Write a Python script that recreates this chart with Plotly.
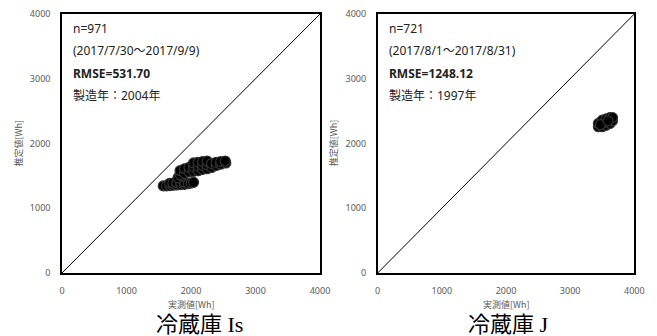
import plotly.graph_objects as go

# ---- data ----
axis_ticks = [0, 1000, 2000, 3000, 4000]

is_measured = [1570, 1620, 1670, 1670, 1720, 1720, 1780, 1780, 1840, 1840, 1900, 1900, 1960, 2000, 2040,
               1800, 1850,
               1830, 1830, 1900, 1900, 1970, 1970, 2040, 2040, 2040, 2110, 2110, 2110, 2180, 2180, 2180,
               2250, 2250, 2250, 2320, 2320, 2390, 2390, 2460, 2460, 2540, 2530]
is_estimated = [1345, 1345, 1350, 1385, 1355, 1390, 1360, 1395, 1365, 1400, 1370, 1405, 1380, 1390, 1400,
                1470, 1500,
                1520, 1580, 1540, 1610, 1560, 1630, 1570, 1640, 1700, 1580, 1650, 1710, 1600, 1660, 1720,
                1610, 1670, 1730, 1630, 1690, 1660, 1710, 1680, 1720, 1700, 1730]

j_measured = [3440, 3440, 3500, 3500, 3500, 3560, 3560, 3560, 3620, 3620, 3620, 3660, 3660, 3470, 3590]
j_estimated = [2260, 2310, 2260, 2310, 2360, 2280, 2330, 2380, 2310, 2360, 2400, 2350, 2400, 2290, 2350]

diag = [0, 4000]

W, H = 657, 336
fig = go.Figure()

grey = "#595959"
tick_font = dict(family="Noto Sans, Noto Sans CJK JP", size=9, color=grey)

panels = [
    dict(xd=[62 / W, 320 / W], x=is_measured, y=is_estimated, cap_x=199,
         info=["n=971", "(2017/7/30～2017/9/9)", "<b>RMSE=531.70</b>", "製造年：2004年"],
         name="冷蔵庫 Is"),
    dict(xd=[377.7 / W, 634.3 / W], x=j_measured, y=j_estimated, cap_x=508,
         info=["n=721", "(2017/8/1～2017/8/31)", "<b>RMSE=1248.12</b>", "製造年：1997年"],
         name="冷蔵庫 J"),
]
yd = [1 - 273 / H, 1 - 14 / H]

for i, p in enumerate(panels):
    sx = "" if i == 0 else str(i + 1)
    fig.add_trace(go.Scatter(x=diag, y=diag, mode="lines", line=dict(color="black", width=1),
                             xaxis="x" + sx, yaxis="y" + sx, showlegend=False, hoverinfo="skip"))
    fig.add_trace(go.Scatter(x=p["x"], y=p["y"], mode="markers",
                             marker=dict(symbol="circle", size=10, color="black",
                                         line=dict(width=1.2, color="#333333")),
                             xaxis="x" + sx, yaxis="y" + sx, showlegend=False))
    ax = dict(range=[0, 4000], tickvals=axis_ticks, showgrid=False, zeroline=False,
              showline=True, linecolor="black", linewidth=1.5, mirror=True,
              ticks="", tickfont=tick_font, fixedrange=True, automargin=False)
    fig.layout["xaxis" + sx] = dict(ax, domain=p["xd"], anchor="y" + sx, ticklabelstandoff=8)
    fig.layout["yaxis" + sx] = dict(ax, domain=yd, anchor="x" + sx, ticklabelstandoff=8)

    x0px = p["xd"][0] * W
    x1px = p["xd"][1] * W
    # info text lines
    for k, t in enumerate(p["info"]):
        fig.add_annotation(xref="paper", yref="paper", x=(x0px + 9) / W, y=1 - (28 + k * 22.5) / H,
                           text=t, showarrow=False, xanchor="left", yanchor="middle",
                           font=dict(family="Noto Sans, Noto Sans CJK JP", size=12, color="#222222"))
    # axis titles
    fig.add_annotation(xref="paper", yref="paper", x=(x0px + x1px) / 2 / W, y=1 - 304 / H,
                       text="実測値[Wh]", showarrow=False, xanchor="center", yanchor="middle",
                       font=dict(family="Noto Sans CJK JP", size=9, color=grey))
    fig.add_annotation(xref="paper", yref="paper", x=(x0px - 44) / W, y=(yd[0] + yd[1]) / 2,
                       text="推定値[Wh]", showarrow=False, textangle=-90, xanchor="center", yanchor="middle",
                       font=dict(family="Noto Sans CJK JP", size=9, color=grey))
    # panel caption
    fig.add_annotation(xref="paper", yref="paper", x=p["cap_x"] / W, y=1 - 324 / H,
                       text=p["name"], showarrow=False, xanchor="center", yanchor="middle",
                       font=dict(family="Liberation Serif, Noto Sans CJK JP", size=22, color="black"))

fig.update_layout(width=W, height=H, margin=dict(l=0, r=0, t=0, b=0),
                  paper_bgcolor="white", plot_bgcolor="white")

fig.write_html("out.html", config={"displayModeBar": False},
               post_script="document.body.style.margin='0';document.body.style.overflow='hidden';")
